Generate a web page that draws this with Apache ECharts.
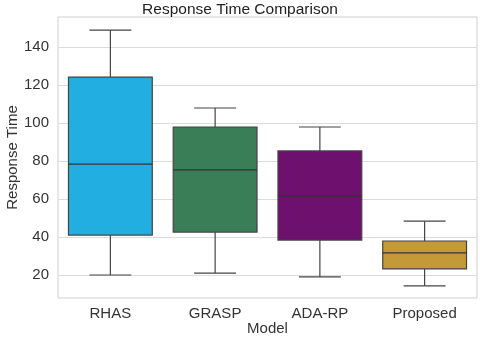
<!DOCTYPE html>
<html>
<head>
<meta charset="utf-8">
<script src="https://cdn.jsdelivr.net/npm/echarts@6/dist/echarts.min.js"></script>
<style>
  html, body { margin: 0; padding: 0; background: #fff; }
  #chart { width: 480px; height: 338px; }
</style>
</head>
<body>
<div id="chart"></div>
<script>
// 模型名称
var models = ['RHAS', 'GRASP', 'ADA-RP', 'Proposed']
// 箱线图五数: 下须, Q1, 中位数, Q3, 上须
var whiskerLow = [20, 21, 19, 14.3]
var q1 = [41, 42.6, 38.4, 23.2]
var median = [78.4, 75.3, 61.6, 31.6]
var q3 = [124.2, 97.9, 85.3, 37.9]
var whiskerHigh = [148.9, 107.9, 97.9, 48.4]
var boxColors = ['#22aee0', '#397e57', '#6e106e', '#c49a38']
var yTicks = [20, 40, 60, 80, 100, 120, 140]

var font = 'Liberation Sans, Arial, sans-serif'
var edge = '#444'

var chart = echarts.init(document.getElementById('chart'))

var boxData = models.map(function (m, i) {
  return [i, whiskerLow[i], q1[i], median[i], q3[i], whiskerHigh[i]]
})

function renderBox(params, api) {
  var i = api.value(0)
  var band = api.size([1, 0])[0]
  var bw = band * 0.8
  var cx = api.coord([i, 0])[0]
  var yLow = api.coord([i, api.value(1)])[1]
  var yQ1 = api.coord([i, api.value(2)])[1]
  var yMed = api.coord([i, api.value(3)])[1]
  var yQ3 = api.coord([i, api.value(4)])[1]
  var yHigh = api.coord([i, api.value(5)])[1]
  var lineStyle = { stroke: edge, lineWidth: 1.2, fill: null }
  return {
    type: 'group',
    children: [
      { type: 'line', shape: { x1: cx, y1: yHigh, x2: cx, y2: yQ3 }, style: lineStyle },
      { type: 'line', shape: { x1: cx, y1: yQ1, x2: cx, y2: yLow }, style: lineStyle },
      { type: 'line', shape: { x1: cx - bw / 4, y1: yHigh, x2: cx + bw / 4, y2: yHigh }, style: lineStyle },
      { type: 'line', shape: { x1: cx - bw / 4, y1: yLow, x2: cx + bw / 4, y2: yLow }, style: lineStyle },
      {
        type: 'rect',
        shape: { x: cx - bw / 2, y: yQ3, width: bw, height: yQ1 - yQ3 },
        style: { fill: boxColors[i], stroke: edge, lineWidth: 1.2 }
      },
      { type: 'line', shape: { x1: cx - bw / 2, y1: yMed, x2: cx + bw / 2, y2: yMed }, style: { stroke: '#333', lineWidth: 1.2 } }
    ]
  }
}

var option = {
  backgroundColor: '#fff',
  animation: false,
  title: {
    text: 'Response Time Comparison',
    left: 'center',
    top: -3,
    textStyle: { fontFamily: font, fontSize: 15.5, fontWeight: 'normal', color: '#222' }
  },
  grid: {
    left: 58,
    right: 3,
    top: 17,
    bottom: 40,
    outerBoundsMode: 'none',
    containLabel: false,
    show: true,
    borderColor: '#cfcfcf',
    borderWidth: 1
  },
  xAxis: {
    type: 'category',
    data: models,
    name: 'Model',
    nameLocation: 'middle',
    nameGap: 31,
    nameMoveOverlap: false,
    nameTextStyle: { fontFamily: font, fontSize: 15, color: '#333', verticalAlign: 'middle' },
    axisLine: { show: false },
    axisTick: { show: false },
    axisLabel: { fontFamily: font, fontSize: 15, color: '#333', margin: 8 }
  },
  yAxis: {
    type: 'value',
    min: 7.9,
    max: 155.8,
    name: 'Response Time',
    nameLocation: 'middle',
    nameGap: 38,
    nameMoveOverlap: false,
    nameTextStyle: { fontFamily: font, fontSize: 15, color: '#333' },
    axisLine: { show: false },
    axisTick: { show: false, customValues: yTicks },
    axisLabel: { fontFamily: font, fontSize: 15, color: '#333', margin: 9, customValues: yTicks },
    splitLine: { show: true, lineStyle: { color: '#dcdcdc', width: 1 } }
  },
  series: [
    {
      type: 'custom',
      renderItem: renderBox,
      encode: { x: 0, y: [1, 2, 3, 4, 5] },
      data: boxData
    }
  ]
}

chart.setOption(option)
</script>
</body>
</html>
